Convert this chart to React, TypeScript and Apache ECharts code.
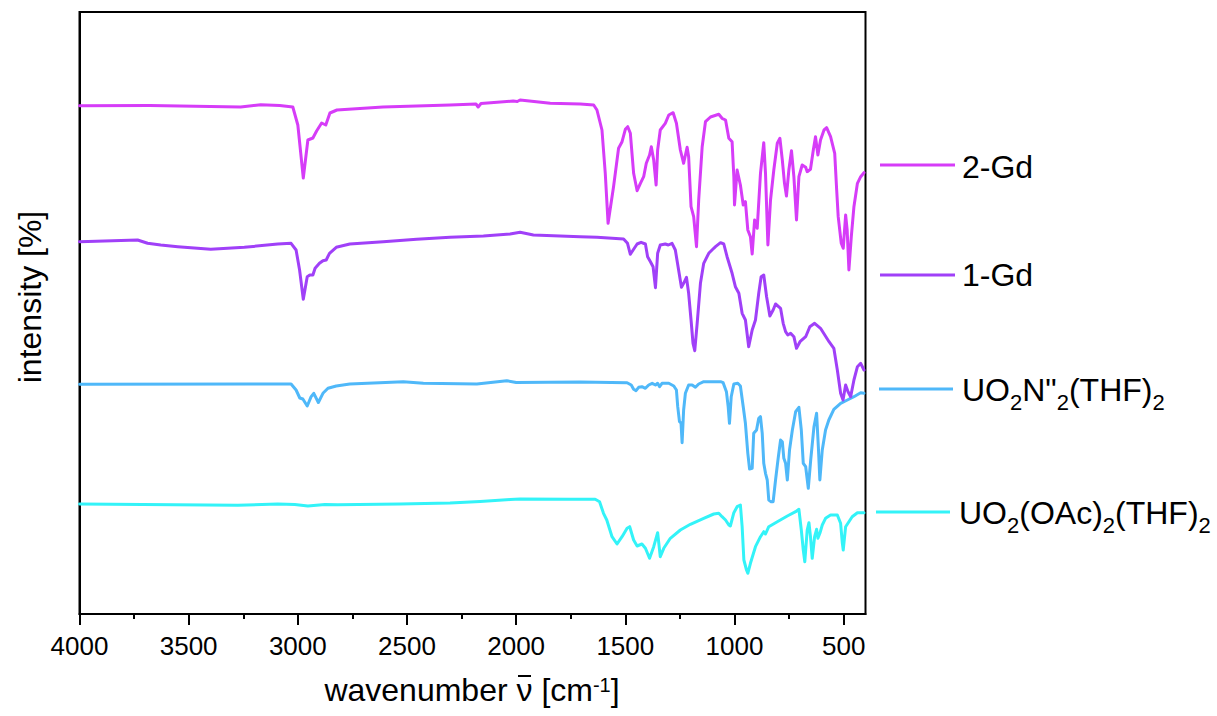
import React, { useEffect, useRef } from 'react';
import * as echarts from 'echarts';

const FONT = '"Liberation Sans", Arial, Helvetica, sans-serif';

const xMajorTicks = [4000, 3500, 3000, 2500, 2000, 1500, 1000, 500];
const xMinorTicks = [3750, 3250, 2750, 2250, 1750, 1250, 750];

const seriesColors = ['#d63cf8', '#a040f8', '#4fb8f9', '#33f3f8'];

// [wavenumber cm-1, intensity (arbitrary, offset)]
const gd2: [number, number][] = [
  [4000, 508.3], [3679, 508.5], [3262, 507], [3170, 509.3], [3083, 508.5], [3023, 507], [3000, 489],
  [2975, 436], [2954, 474], [2931, 476], [2914, 483], [2891, 491], [2872, 489], [2853, 501], [2821, 504],
  [2610, 507], [2303, 509], [2184, 510], [2174, 507], [2161, 510.5], [2014, 513], [1995, 512.5], [1982, 514],
  [1844, 510.7], [1706, 510], [1645, 509], [1630, 504], [1607, 484], [1592, 441], [1579, 390.7], [1554, 427.3],
  [1531, 465.7], [1515, 472.3], [1500, 484.7], [1489, 487.3], [1477, 480.7], [1462, 440.7], [1446, 423.3],
  [1431, 430.7], [1416, 437.3], [1404, 450.7], [1389, 459], [1381, 467.3], [1370, 454], [1359, 429], [1352, 464],
  [1340, 484], [1317, 490.7], [1301, 499], [1281, 501.3], [1266, 490.7], [1248, 464], [1233, 450.7], [1217, 466.7],
  [1210, 457.3], [1199, 407.3], [1187, 397.3], [1174, 367.3], [1164, 414], [1148, 467.3], [1133, 492.3], [1110, 497],
  [1072, 499.7], [1057, 495.7], [1041, 494], [1026, 475.7], [1011, 472.3], [1003, 437.3], [1000, 409], [988, 444],
  [973, 429], [960, 409], [950, 412.3], [939, 384], [927, 377.3], [919, 360], [908, 394], [896, 385.7], [881, 440.7],
  [866, 471.3], [858, 440.7], [847, 369], [835, 414], [820, 444], [804, 470.7], [792, 475.7], [781, 454], [771, 430.7],
  [762, 418], [751, 444], [739, 463.3], [728, 437.3], [716, 394], [705, 437.3], [690, 449], [674, 446.7], [667, 442.3],
  [652, 444.7], [639, 464], [629, 477.3], [618, 459], [606, 474], [590, 484], [578, 486.3], [560, 477.3], [541, 460.7],
  [532, 424], [525, 397.3], [511, 370.7], [502, 365.7], [491, 399], [484, 384], [476, 344], [465, 377.3], [453, 407.3],
  [437, 430.7], [422, 437.3], [407, 441.3],
];

const gd1: [number, number][] = [
  [4000, 372.3], [3734, 374], [3688, 370.7], [3628, 369], [3550, 367.3], [3399, 364.7], [3245, 366.7], [3092, 370],
  [3031, 370.7], [3008, 364], [2992, 344], [2975, 314.7], [2957, 337.3], [2945, 339], [2931, 339], [2921, 345.7],
  [2901, 350.7], [2885, 353.3], [2870, 354], [2855, 360.7], [2824, 366.7], [2762, 370], [2609, 372.3], [2456, 374.7],
  [2303, 376.7], [2150, 378], [2028, 380], [1982, 381.7], [1921, 379], [1707, 377.3], [1630, 376.7], [1508, 375],
  [1490, 370.7], [1477, 359.7], [1462, 364.7], [1446, 370], [1428, 371.7], [1408, 370], [1398, 357.3], [1385, 352.3],
  [1373, 347.3], [1362, 326.3], [1352, 360.7], [1340, 369], [1317, 370], [1303, 369], [1286, 370.7], [1271, 364],
  [1256, 344], [1243, 326.7], [1233, 330.7], [1220, 336.7], [1210, 320.7], [1199, 294], [1190, 270.7], [1182, 263.3],
  [1171, 290.7], [1156, 330.7], [1141, 350.7], [1118, 360.7], [1095, 365.7], [1087, 367.3], [1064, 371.3], [1049, 370],
  [1034, 357.3], [1011, 340.7], [996, 327.3], [980, 320.7], [965, 300.7], [950, 294], [935, 267.3], [919, 284],
  [904, 294], [889, 320.7], [878, 337.3], [866, 339], [853, 317.3], [838, 298], [823, 304], [812, 310], [789, 305.7],
  [777, 290.7], [766, 282.3], [756, 279], [743, 280.7], [728, 277.3], [716, 265.7], [700, 272.3], [674, 277.3],
  [655, 287.3], [633, 290.7], [606, 285.7], [567, 272.3], [545, 265.7], [529, 244], [514, 220.7], [503, 214],
  [491, 229], [480, 222.3], [468, 217.3], [453, 234], [437, 247.3], [422, 250.7], [407, 244],
];

const uo2n: [number, number][] = [
  [4000, 229.7], [3220, 230], [3031, 230], [3008, 224], [2991, 216], [2977, 215], [2957, 208], [2939, 217.3],
  [2927, 220.7], [2906, 211.5], [2885, 220.7], [2862, 225.7], [2824, 228], [2762, 230], [2517, 232.3], [2425, 230.7],
  [2180, 230], [2043, 233.3], [2000, 231.5], [1707, 232], [1492, 231.3], [1473, 229], [1462, 224.7], [1451, 223.3],
  [1439, 226.7], [1424, 227.3], [1408, 225.7], [1393, 229], [1377, 230.7], [1362, 229], [1352, 230.7], [1343, 227.3],
  [1332, 230.7], [1301, 230.7], [1278, 228], [1266, 224], [1260, 207.3], [1252, 192.3], [1245, 191], [1240, 171.3],
  [1233, 204], [1225, 220.7], [1210, 229], [1194, 229], [1179, 226.7], [1164, 230], [1141, 232.3], [1064, 232.3],
  [1052, 231.3], [1037, 222.3], [1029, 207.3], [1023, 190.7], [1015, 217.3], [1003, 230], [985, 230.7], [973, 228],
  [960, 207.3], [950, 190.7], [939, 160.7], [931, 145], [919, 145.7], [912, 180.7], [899, 184], [889, 195.7],
  [881, 197.3], [873, 180.7], [866, 150.7], [858, 140.7], [850, 134], [843, 114], [832, 112.3], [823, 112.3],
  [812, 134], [800, 155.7], [789, 174], [781, 172.3], [774, 155.7], [766, 150.7], [758, 134], [748, 164], [735, 184],
  [720, 202.3], [705, 206.7], [694, 184], [685, 150.7], [674, 147.3], [662, 125.7], [651, 154], [636, 187.3],
  [624, 200.7], [616, 167.3], [609, 134], [598, 164], [583, 184], [568, 194], [545, 204.7], [514, 210.7], [483, 214],
  [453, 217.3], [422, 221.3], [407, 220.7],
];

const uo2oac: [number, number][] = [
  [4000, 110], [3275, 108.7], [3092, 110], [3014, 109.5], [2954, 108], [2876, 109.5], [2817, 109.3], [2532, 110],
  [2303, 111], [2165, 112.5], [2028, 114.5], [1982, 115], [1752, 114.7], [1638, 114.7], [1618, 112.3], [1600, 100.7],
  [1585, 94], [1561, 77.3], [1538, 70], [1515, 77.3], [1492, 85.7], [1480, 87.3], [1462, 74], [1446, 68], [1424, 70],
  [1408, 65.7], [1389, 55.7], [1370, 67.3], [1352, 81.3], [1340, 57.3], [1324, 65.7], [1294, 75.7], [1248, 84],
  [1202, 89.7], [1141, 95.7], [1095, 100], [1072, 100.7], [1057, 97.3], [1041, 94], [1026, 89], [1019, 88],
  [1003, 101.3], [988, 107.3], [973, 109], [965, 87.3], [957, 54], [945, 44], [939, 40.7], [927, 50.7], [904, 67.3],
  [881, 77.3], [866, 82.3], [858, 80], [843, 87.3], [804, 92.3], [758, 98], [720, 102.3], [705, 104.7], [694, 84],
  [685, 64], [678, 52.3], [667, 84], [659, 91.3], [652, 77.3], [644, 55.7], [633, 77.3], [624, 84.7], [618, 75.7],
  [609, 80.7], [598, 89], [583, 95.7], [560, 99], [529, 99], [514, 90.7], [506, 70.7], [502, 64], [491, 87.3],
  [476, 92.3], [461, 97.3], [437, 101.3], [407, 101.3],
];

const seriesData = [gd2, gd1, uo2n, uo2oac];

const mainStyle = { fontSize: 32, fontFamily: FONT, lineHeight: 36, fill: '#000', verticalAlign: 'middle' };
const subStyle = { fontSize: 22, fontFamily: FONT, lineHeight: 22, fill: '#000', verticalAlign: 'middle', padding: [25, 0, 0, 0] };

const legendLabels = [
  '{m|2-Gd}',
  '{m|1-Gd}',
  '{m|UO}{s|2}{m|N"}{s|2}{m|(THF)}{s|2}',
  '{m|UO}{s|2}{m|(OAc)}{s|2}{m|(THF)}{s|2}',
];

function measure(text: string, size: number): number {
  const c = document.createElement('canvas').getContext('2d');
  if (!c) return text.length * size * 0.55;
  c.font = `${size}px "Liberation Sans", Arial, Helvetica, sans-serif`;
  return c.measureText(text).width;
}

export default function App() {
  const ref = useRef<HTMLDivElement>(null);
  useEffect(() => {
    if (!ref.current) return;
    const chart = echarts.init(ref.current, null, { renderer: 'svg' });

    const legendPos = [
      { x1: 880, x2: 955, ly: 165, tx: 962, ty: 167 },
      { x1: 880, x2: 955, ly: 275, tx: 962, ty: 275 },
      { x1: 879, x2: 953, ly: 389, tx: 962, ty: 389.5 },
      { x1: 876, x2: 950, ly: 512, tx: 959, ty: 512.5 },
    ];

    const graphic: any[] = [];
    legendPos.forEach((p, i) => {
      graphic.push({
        type: 'line',
        shape: { x1: p.x1, y1: p.ly, x2: p.x2, y2: p.ly },
        style: { stroke: seriesColors[i], lineWidth: 3 },
      });
      graphic.push({
        type: 'text',
        x: p.tx,
        y: p.ty,
        style: {
          text: legendLabels[i],
          align: 'left',
          verticalAlign: 'middle',
          rich: { m: mainStyle, s: subStyle },
        },
      });
    });

    // x axis title, left-aligned so the bar over nu can be placed
    const pre = 'wavenumber ';
    const nu = 'ν';
    const post = ' [cm';
    const wPre = measure(pre, 32);
    const wNu = measure(nu, 32);
    const total = wPre + wNu + measure(post, 32) + measure('-1', 20) + measure(']', 32);
    const titleLeft = 472 - total / 2;
    const titleY = 690;
    graphic.push({
      type: 'text',
      x: titleLeft,
      y: titleY,
      style: {
        text: `{m|${pre}${nu}${post}}{p|-1}{m|]}`,
        align: 'left',
        verticalAlign: 'middle',
        rich: {
          m: { fontSize: 32, fontFamily: FONT, lineHeight: 36, fill: '#000', verticalAlign: 'middle' },
          p: { fontSize: 20, fontFamily: FONT, lineHeight: 20, fill: '#000', verticalAlign: 'top', padding: [3, 0, 0, 0] },
        },
      },
    });
    graphic.push({
      type: 'line',
      shape: {
        x1: titleLeft + wPre + 1.5,
        y1: titleY - 14,
        x2: titleLeft + wPre + wNu - 1.5,
        y2: titleY - 14,
      },
      style: { stroke: '#000', lineWidth: 2 },
    });

    graphic.push({
      type: 'text',
      x: 30,
      y: 297,
      rotation: Math.PI / 2,
      style: {
        text: 'intensity [%]',
        align: 'center',
        verticalAlign: 'middle',
        fontSize: 32,
        fontFamily: FONT,
        fill: '#000',
      },
    });

    chart.setOption({
      animation: false,
      backgroundColor: '#fff',
      grid: {
        left: 79.5,
        right: 351.5,
        top: 12,
        bottom: 102,
        show: true,
        borderColor: '#000',
        borderWidth: 2,
        containLabel: false,
      },
      xAxis: [
        {
          type: 'value',
          inverse: true,
          min: 400,
          max: 4000,
          position: 'bottom',
          axisLine: { show: true, lineStyle: { color: '#000', width: 2 } },
          axisTick: { show: true, customValues: xMajorTicks, length: 11, inside: false, lineStyle: { color: '#000', width: 2 } },
          axisLabel: {
            show: true,
            customValues: xMajorTicks,
            margin: 19,
            fontSize: 26,
            fontFamily: FONT,
            color: '#000',
            formatter: (v: number) => String(v),
          },
          splitLine: { show: false },
        },
        {
          type: 'value',
          inverse: true,
          min: 400,
          max: 4000,
          position: 'bottom',
          axisLine: { show: false },
          axisTick: { show: true, customValues: xMinorTicks, length: 5, inside: false, lineStyle: { color: '#000', width: 2 } },
          axisLabel: { show: false },
          splitLine: { show: false },
        },
      ],
      yAxis: {
        type: 'value',
        min: 0,
        max: 602,
        axisLine: { show: true, lineStyle: { color: '#000', width: 2 } },
        axisTick: { show: false },
        axisLabel: { show: false },
        splitLine: { show: false },
      },
      series: seriesData.map((d, i) => ({
        type: 'line',
        xAxisIndex: 0,
        data: d,
        showSymbol: false,
        symbol: 'none',
        smooth: false,
        lineStyle: { color: seriesColors[i], width: 3, join: 'round', cap: 'round' },
        itemStyle: { color: seriesColors[i] },
        z: 2 + (3 - i),
      })),
      graphic,
    });
    return () => chart.dispose();
  }, []);
  return (
    <div
      ref={ref}
      style={{ position: 'fixed', left: 0, top: 0, width: 1217, height: 716, background: '#fff' }}
    />
  );
}
